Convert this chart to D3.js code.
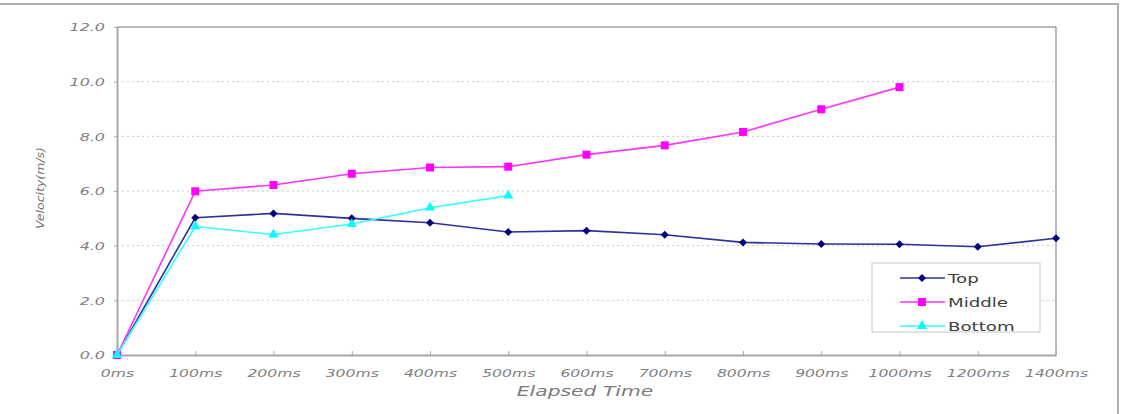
<!DOCTYPE html>
<html>
<head>
<meta charset="utf-8">
<script src="https://cdn.jsdelivr.net/npm/d3@7"></script>
<style>
  body { margin: 0; background: #fff; }
  svg { display: block; }
</style>
</head>
<body>
<div id="chart"></div>
<script>
// data
const categories = ['0ms', '100ms', '200ms', '300ms', '400ms', '500ms', '600ms',
                    '700ms', '800ms', '900ms', '1000ms', '1200ms', '1400ms'];
const topValues = [0, 5.02, 5.18, 5.0, 4.84, 4.5, 4.55, 4.4, 4.12, 4.06, 4.05, 3.96, 4.27];
const middleValues = [0, 5.99, 6.22, 6.63, 6.86, 6.89, 7.33, 7.67, 8.16, 8.99, 9.8];
const bottomValues = [0, 4.7, 4.41, 4.79, 5.39, 5.83];
const yTicks = [0, 2, 4, 6, 8, 10, 12];

// square diamond (same width and height) like the reference marker
const diamond = {
    draw(context, size) {
        const r = Math.sqrt(size) / 1.5;
        context.moveTo(0, -r);
        context.lineTo(r, 0);
        context.lineTo(0, r);
        context.lineTo(-r, 0);
        context.closePath();
    }
};

const series = [
    {name: 'Top', values: topValues, color: '#000080', line: '#30309a', shape: diamond, size: 36},
    {name: 'Middle', values: middleValues, color: '#ff00ff', line: '#ff33ff', shape: d3.symbolSquare, size: 64},
    {name: 'Bottom', values: bottomValues, color: '#00ffff', line: '#33ffff', shape: d3.symbolTriangle, size: 45}
];

const width = 1122, height = 414;
const svg = d3.select('#chart')
    .append('svg')
    .attr('width', width)
    .attr('height', height);

// outer frame (only top and right edges show)
svg.append('rect')
    .attr('x', -5).attr('y', 4)
    .attr('width', 1123).attr('height', 430)
    .attr('fill', 'none')
    .attr('stroke', '#b0b0b0')
    .attr('stroke-width', 2);

const plot = {left: 117, right: 1056, top: 27, bottom: 355};

const x = d3.scalePoint()
    .domain(categories)
    .range([plot.left, plot.right])
    .padding(0);

const y = d3.scaleLinear()
    .domain([0, 12])
    .range([plot.bottom, plot.top]);

const labelFont = '"DejaVu Sans", sans-serif';

// gridlines
svg.append('g')
    .selectAll('line')
    .data(yTicks.filter(d => d > 0 && d < 12))
    .enter()
    .append('line')
    .attr('x1', plot.left).attr('x2', plot.right)
    .attr('y1', d => y(d)).attr('y2', d => y(d))
    .attr('stroke', '#c8c8c8')
    .attr('stroke-dasharray', '2,3');

// plot border: top and right
svg.append('line')
    .attr('x1', plot.left).attr('x2', plot.right)
    .attr('y1', plot.top).attr('y2', plot.top)
    .attr('stroke', '#a0a0a0').attr('stroke-width', 1.5);
svg.append('line')
    .attr('x1', plot.right).attr('x2', plot.right)
    .attr('y1', plot.top).attr('y2', plot.bottom)
    .attr('stroke', '#707070').attr('stroke-width', 1);

// axes
const xAxis = d3.axisBottom(x).tickSize(-4).tickSizeOuter(0);
const yAxis = d3.axisLeft(y).tickValues(yTicks).tickSize(3).tickSizeOuter(0)
    .tickFormat(d3.format('.1f'));

const xAxisGroup = svg.append('g')
    .attr('transform', `translate(0, ${plot.bottom})`)
    .call(xAxis);
const yAxisGroup = svg.append('g')
    .attr('transform', `translate(${plot.left}, 0)`)
    .call(yAxis);

[xAxisGroup, yAxisGroup].forEach(g => {
    g.select('.domain').attr('stroke', '#a8a8a8').attr('stroke-width', 2);
    g.selectAll('.tick line').attr('stroke', '#a8a8a8');
    g.selectAll('text')
        .attr('fill', '#808080')
        .style('font-family', labelFont)
        .style('font-style', 'italic')
        .style('font-size', '11px');
});

xAxisGroup.selectAll('text')
    .attr('y', 22)
    .attr('dy', 0)
    .attr('transform', 'scale(1.42,1)');

yAxisGroup.selectAll('text')
    .attr('x', -12 / 1.45)
    .attr('dy', '0.35em')
    .attr('transform', 'scale(1.45,1)');

// axis titles
svg.append('text')
    .attr('transform', 'translate(585, 396) scale(1.45,1)')
    .attr('fill', '#7a7a7a')
    .style('font-family', labelFont)
    .style('font-style', 'italic')
    .style('font-size', '14px')
    .style('text-anchor', 'middle')
    .text('Elapsed Time');

svg.append('text')
    .attr('transform', 'translate(44, 188) rotate(-90)')
    .attr('fill', '#707070')
    .style('font-family', labelFont)
    .style('font-style', 'italic')
    .style('font-size', '10px')
    .style('text-anchor', 'middle')
    .attr('textLength', 82)
    .attr('lengthAdjust', 'spacingAndGlyphs')
    .text('Velocity(m/s)');

// lines and markers
const line = d3.line()
    .x((d, i) => x(categories[i]))
    .y(d => y(d));

series.forEach(s => {
    svg.append('path')
        .datum(s.values)
        .attr('d', line)
        .attr('fill', 'none')
        .attr('stroke', s.line)
        .attr('stroke-width', 1.6);

    svg.append('g')
        .selectAll('path')
        .data(s.values)
        .enter()
        .append('path')
        .attr('d', d3.symbol().type(s.shape).size(s.size))
        .attr('transform', (d, i) => `translate(${x(categories[i])}, ${y(d)})`)
        .attr('fill', s.color);
});

// legend
const legend = svg.append('g').attr('transform', 'translate(872, 263)');
legend.append('rect')
    .attr('width', 168).attr('height', 69)
    .attr('fill', '#fff')
    .attr('stroke', '#c8c8c8');

const items = legend.selectAll('g.item')
    .data(series)
    .enter()
    .append('g')
    .attr('transform', (d, i) => `translate(0, ${15 + i * 24})`);

items.append('line')
    .attr('x1', 28).attr('x2', 73)
    .attr('stroke', d => d.line)
    .attr('stroke-width', 1.6);
items.append('path')
    .attr('d', d => d3.symbol().type(d.shape).size(d.size)())
    .attr('transform', 'translate(50, 0)')
    .attr('fill', d => d.color);
items.append('text')
    .attr('transform', 'translate(76, 0) scale(1.4,1)')
    .attr('dy', '0.36em')
    .attr('fill', '#404040')
    .style('font-family', labelFont)
    .style('font-size', '13px')
    .text(d => d.name);
</script>
</body>
</html>
